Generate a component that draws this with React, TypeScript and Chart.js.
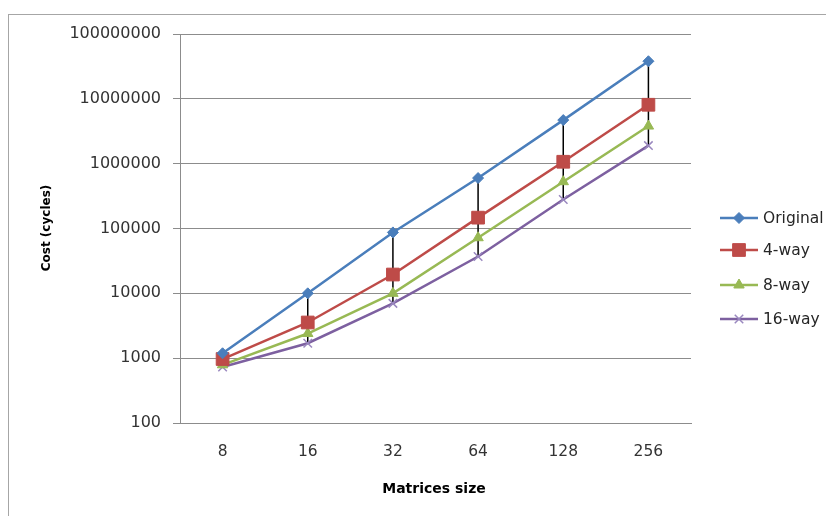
import React, { useEffect, useRef } from 'react';
import { Chart, registerables } from 'chart.js';
import { drawPoint } from 'chart.js/helpers';

Chart.register(...registerables);

const categories = ['8', '16', '32', '64', '128', '256'];
const original = [1190, 10000, 87000, 600000, 4700000, 38000000];
const way4 = [970, 3550, 19500, 147000, 1070000, 8100000];
const way8 = [790, 2400, 10000, 72000, 527000, 3800000];
const way16 = [730, 1700, 7000, 37000, 280000, 1900000];
const yTicks = [100, 1000, 10000, 100000, 1000000, 10000000, 100000000];
const seriesNames = ['Original', '4-way', '8-way', '16-way'];

const FONT = "'DejaVu Sans', sans-serif";

const seriesStyles = [
  { color: '#4A7EBB', pointStyle: 'rectRot', radius: 5.5, pointColor: '#4A7EBB', pointBorder: 1 },
  { color: '#BE4B48', pointStyle: 'rect', radius: 9, pointColor: '#BE4B48', pointBorder: 1 },
  { color: '#98B954', pointStyle: 'triangle', radius: 6, pointColor: '#98B954', pointBorder: 1 },
  { color: '#7D60A0', pointStyle: 'crossRot', radius: 6, pointColor: '#9a88bf', pointBorder: 1.5 },
];

const extrasPlugin = {
  id: 'extras',
  beforeDraw(chart: any) {
    const ctx = chart.ctx;
    ctx.save();
    ctx.fillStyle = '#ffffff';
    ctx.fillRect(0, 0, chart.width, chart.height);
    ctx.strokeStyle = '#a6a6a6';
    ctx.lineWidth = 1;
    ctx.beginPath();
    ctx.moveTo(0, 6.5);
    ctx.lineTo(chart.width, 6.5);
    ctx.moveTo(0.5, 6);
    ctx.lineTo(0.5, chart.height);
    ctx.stroke();
    ctx.restore();
  },
  beforeDatasetsDraw(chart: any) {
    const ctx = chart.ctx;
    const x = chart.scales.x;
    const y = chart.scales.y;
    ctx.save();
    ctx.strokeStyle = '#000000';
    ctx.lineWidth = 1.5;
    ctx.beginPath();
    categories.forEach((_, i) => {
      const px = x.getPixelForValue(i);
      ctx.moveTo(px, y.getPixelForValue(original[i]));
      ctx.lineTo(px, y.getPixelForValue(way16[i]));
    });
    ctx.stroke();
    ctx.restore();
  },
  afterDraw(chart: any) {
    const ctx = chart.ctx;
    ctx.save();
    // legend
    const ys = [210, 242, 277, 311];
    seriesNames.forEach((name, i) => {
      const s = seriesStyles[i];
      const yy = ys[i];
      ctx.strokeStyle = s.color;
      ctx.lineWidth = 2.5;
      ctx.beginPath();
      ctx.moveTo(712, yy);
      ctx.lineTo(750, yy);
      ctx.stroke();
      ctx.fillStyle = s.pointColor;
      ctx.strokeStyle = s.pointColor;
      ctx.lineWidth = s.pointBorder;
      drawPoint(ctx, { pointStyle: s.pointStyle, radius: s.radius, rotation: 0, borderWidth: s.pointBorder }, 731, yy);
      ctx.fillStyle = '#262626';
      ctx.font = `15.5px ${FONT}`;
      ctx.textAlign = 'left';
      ctx.textBaseline = 'middle';
      ctx.fillText(name, 755, yy + 1);
    });
    // axis titles
    ctx.fillStyle = '#000000';
    ctx.font = `bold 14px ${FONT}`;
    ctx.textAlign = 'center';
    ctx.textBaseline = 'middle';
    ctx.fillText('Matrices size', 426, 481);
    ctx.translate(39, 220);
    ctx.rotate(-Math.PI / 2);
    ctx.font = `bold 12px ${FONT}`;
    ctx.fillText('Cost (cycles)', 0, 0);
    ctx.restore();
  },
};

export default function App() {
  const ref = useRef<HTMLCanvasElement>(null);
  useEffect(() => {
    if (!ref.current) return;
    const data = [original, way4, way8, way16];
    const chart = new Chart(ref.current, {
      type: 'line',
      data: {
        labels: categories,
        datasets: seriesNames.map((name, i) => ({
          label: name,
          data: data[i],
          borderColor: seriesStyles[i].color,
          backgroundColor: seriesStyles[i].pointColor,
          pointBackgroundColor: seriesStyles[i].pointColor,
          pointBorderColor: seriesStyles[i].pointColor,
          pointBorderWidth: seriesStyles[i].pointBorder,
          pointStyle: seriesStyles[i].pointStyle as any,
          pointRadius: seriesStyles[i].radius,
          borderWidth: 2.5,
          tension: 0,
        })),
      },
      options: {
        responsive: false,
        animation: false,
        layout: { padding: { top: 26, right: 143, left: 0, bottom: 0 } },
        plugins: { legend: { display: false }, tooltip: { enabled: false } },
        scales: {
          x: {
            type: 'category',
            offset: true,
            grid: { display: false, drawTicks: false },
            border: { display: true, color: '#8c8c8c', width: 1 },
            ticks: { font: { family: FONT, size: 15.5 }, color: '#333333', padding: 20 },
            afterFit: (scale: any) => { scale.height = 93; },
          },
          y: {
            type: 'logarithmic',
            min: 100,
            max: 100000000,
            grid: { color: '#8c8c8c', lineWidth: 1, tickLength: 7 },
            border: { display: true, color: '#8c8c8c', width: 1 },
            ticks: {
              font: { family: FONT, size: 16 },
              color: '#333333',
              padding: 12,
              autoSkip: false,
              callback: (v: any) => String(v),
            },
            afterBuildTicks: (scale: any) => { scale.ticks = yTicks.map((v) => ({ value: v })); },
            afterFit: (scale: any) => { scale.width = 172; },
          },
        },
      },
      plugins: [extrasPlugin],
    });
    return () => chart.destroy();
  }, []);
  return <canvas ref={ref} width={826} height={508} style={{ display: 'block' }} />;
}
